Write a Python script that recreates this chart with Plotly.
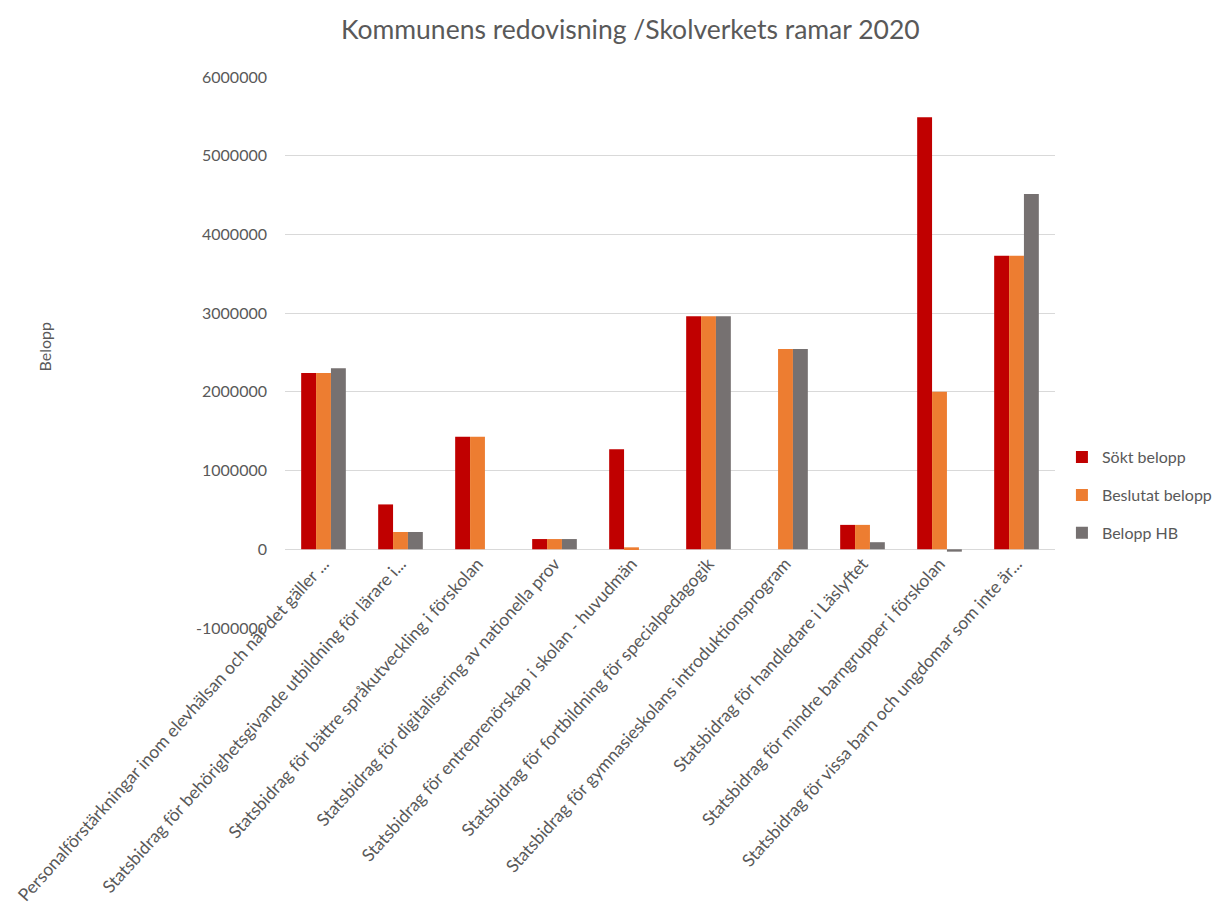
import plotly.graph_objects as go

categories = [
    "Personalförstärkningar inom elevhälsan och när det gäller ...",
    "Statsbidrag för behörighetsgivande utbildning för lärare i...",
    "Statsbidrag för bättre språkutveckling i förskolan",
    "Statsbidrag för digitalisering av nationella prov",
    "Statsbidrag för entreprenörskap i skolan - huvudmän",
    "Statsbidrag för fortbildning för specialpedagogik",
    "Statsbidrag för gymnasieskolans introduktionsprogram",
    "Statsbidrag för handledare i Läslyftet",
    "Statsbidrag för mindre barngrupper i förskolan",
    "Statsbidrag för vissa barn och ungdomar som inte är...",
]
sokt = [2240000, 570000, 1430000, 130000, 1270000, 2960000, 0, 310000, 5490000, 3730000]
beslutat = [2240000, 220000, 1430000, 130000, 25000, 2960000, 2545000, 310000, 2000000, 3730000]
hb = [2300000, 220000, 0, 130000, 0, 2960000, 2545000, 90000, -30000, 4515000]
series_names = ["Sökt belopp", "Beslutat belopp", "Belopp HB"]
colors = ["#C00000", "#ED7D31", "#767171"]
ytick_vals = [-1000000, 0, 1000000, 2000000, 3000000, 4000000, 5000000, 6000000]
y_min, y_max = -1000000, 6000000

FONT = "Lato, Open Sans, sans-serif"
fig = go.Figure()
for i, (name, vals, c) in enumerate(zip(series_names, [sokt, beslutat, hb], colors)):
    fig.add_trace(go.Bar(x=categories, y=vals, name=name, marker_color=c,
                         marker_line_width=0, legendgroup=str(i)))

fig.update_layout(
    width=1213, height=909,
    paper_bgcolor="white", plot_bgcolor="white",
    margin=dict(l=277, r=166, t=69, b=289, autoexpand=False),
    barmode="group", bargap=0.42, bargroupgap=0,
    font=dict(family=FONT, color="#595959", size=14),
    title=dict(text="Kommunens redovisning /Skolverkets ramar 2020",
               x=0.513, xanchor="center", y=0.976, yanchor="middle",
               font=dict(size=26.5, color="#595959", family=FONT)),
    legend=dict(x=1.009, xanchor="left", y=0.241, yanchor="middle",
                font=dict(size=16, color="#595959"), traceorder="grouped",
                tracegroupgap=14, itemwidth=30),
    xaxis=dict(tickangle=-48, tickfont=dict(size=17.5, color="#595959"),
               showline=False, ticks="", automargin=False,
               anchor="free", position=(0 - y_min) / (y_max - y_min)),
    yaxis=dict(range=[y_min, y_max], tickvals=ytick_vals,
               ticktext=[str(v) for v in ytick_vals],
               showgrid=True, gridcolor="#D9D9D9", gridwidth=1.3,
               zeroline=True, zerolinecolor="#D9D9D9", zerolinewidth=1.3,
               tickfont=dict(size=16, color="#595959"), ticks="", ticklen=0,
               ticklabelstandoff=17, automargin=False),
    annotations=[dict(text="Belopp", xref="paper", yref="paper",
                      x=-0.326, y=0.51, textangle=-90, showarrow=False,
                      font=dict(size=16, color="#595959"))],
)
fig.write_html("out.html")
